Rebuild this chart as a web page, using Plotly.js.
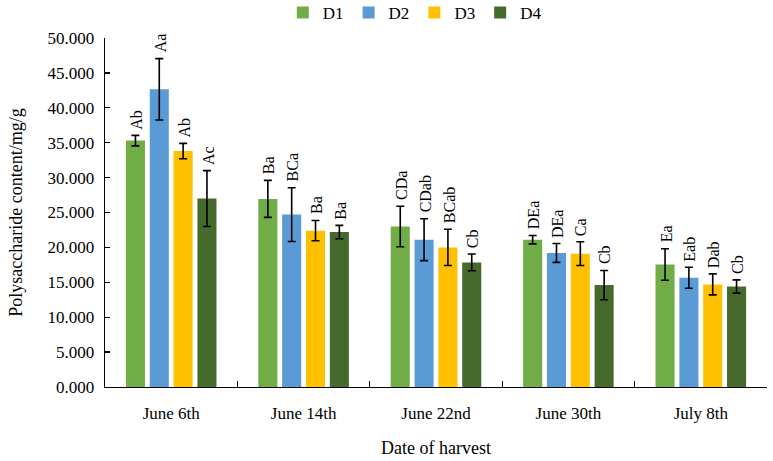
<!DOCTYPE html>
<html>
<head>
<meta charset="utf-8">
<script src="https://cdn.plot.ly/plotly-3.0.1.min.js"></script>
<style>html,body{margin:0;padding:0;background:#fff;}#chart{width:773px;height:461px;}</style>
</head>
<body>
<div id="chart"></div>
<script>
var categories = ["June 6th", "June 14th", "June 22nd", "June 30th", "July 8th"];
var seriesNames = ["D1", "D2", "D3", "D4"];
var D1 = [35.3, 26.95, 23.0, 21.1, 17.55];
var D2 = [42.65, 24.7, 21.1, 19.2, 15.65];
var D3 = [33.8, 22.4, 20.0, 19.1, 14.7];
var D4 = [27.0, 22.2, 17.85, 14.6, 14.4];
var D1err = [0.75, 2.65, 2.9, 0.6, 2.25];
var D2err = [4.4, 3.85, 3.0, 1.35, 1.5];
var D3err = [1.1, 1.45, 2.6, 1.7, 1.5];
var D4err = [4.0, 0.95, 1.2, 2.1, 0.95];
var D1lab = ["Ab", "Ba", "CDa", "DEa", "Ea"];
var D2lab = ["Aa", "BCa", "CDab", "DEa", "Eab"];
var D3lab = ["Ab", "Ba", "BCab", "Ca", "Dab"];
var D4lab = ["Ac", "Ba", "Cb", "Cb", "Cb"];
var colors = ["#70AD47", "#5B9BD5", "#FFC000", "#46692C"];

var values = [D1, D2, D3, D4];
var errs = [D1err, D2err, D3err, D4err];
var labs = [D1lab, D2lab, D3lab, D4lab];

var W = 773, H = 461;
var margin = {l: 105, r: 6, t: 38, b: 74, autoexpand: false};
var bargap = 0.28;
var plotW = W - margin.l - margin.r;
var slotPx = plotW / categories.length * (1 - bargap) / seriesNames.length;

var font = "Liberation Serif";
var traces = [];
var annotations = [];
for (var i = 0; i < seriesNames.length; i++) {
  traces.push({
    type: "bar",
    name: seriesNames[i],
    x: categories,
    y: values[i],
    marker: {color: colors[i]},
    error_y: {type: "data", array: errs[i], visible: true, color: "#000", thickness: 1.6, width: 4}
  });
  for (var j = 0; j < categories.length; j++) {
    annotations.push({
      xref: "x", yref: "y",
      x: categories[j], y: values[i][j] + errs[i][j],
      xshift: (i - (seriesNames.length - 1) / 2) * slotPx + 1,
      yshift: 4,
      text: labs[i][j], textangle: -90,
      showarrow: false, xanchor: "center", yanchor: "bottom",
      font: {family: font, size: 16, color: "#000"}
    });
  }
}

var layout = {
  width: W, height: H,
  margin: margin,
  paper_bgcolor: "#fff", plot_bgcolor: "#fff",
  font: {family: font, color: "#000"},
  barmode: "group", bargap: bargap, bargroupgap: 0.2,
  showlegend: true,
  legend: {orientation: "h", x: 0.468, xanchor: "center", yref: "container", y: 0.972, yanchor: "middle",
           font: {family: font, size: 17, color: "#000"}, itemwidth: 30, traceorder: "normal"},
  xaxis: {
    type: "category", showline: true, linecolor: "#000", linewidth: 1.3,
    ticks: "inside", tickson: "boundaries", ticklen: 6, tickcolor: "#000", tickwidth: 1.3,
    showgrid: false, zeroline: false,
    tickfont: {family: font, size: 17, color: "#000"}, ticklabelstandoff: 10,
    title: {text: "Date of harvest", font: {family: font, size: 18, color: "#000"}, standoff: 19}
  },
  yaxis: {
    range: [0, 50], dtick: 5, tickformat: ".3f",
    showline: true, linecolor: "#000", linewidth: 1.3,
    ticks: "inside", ticklen: 5, tickcolor: "#000", tickwidth: 1.3,
    showgrid: false, zeroline: false,
    tickfont: {family: font, size: 17, color: "#000"}, ticklabelstandoff: 6,
    title: {text: "Polysaccharide content/mg/g", font: {family: font, size: 18, color: "#000"}, standoff: 20}
  },
  annotations: annotations
};
Plotly.newPlot("chart", traces, layout, {displayModeBar: false, staticPlot: true});
</script>
</body>
</html>
